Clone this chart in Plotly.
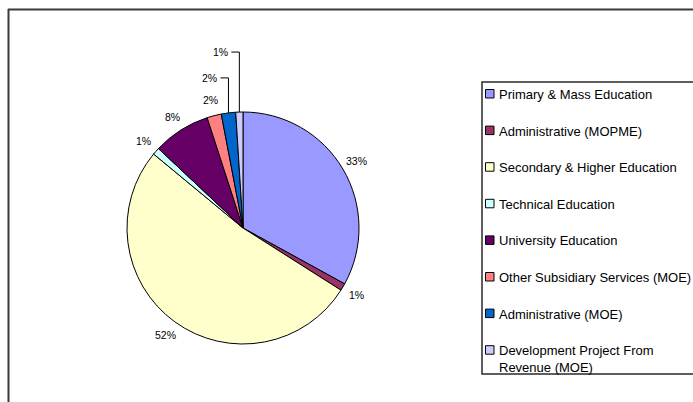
import math
import plotly.graph_objects as go

# Budget share by sector
labels = [
    "Primary & Mass Education",
    "Administrative (MOPME)",
    "Secondary & Higher Education",
    "Technical Education",
    "University Education",
    "Other Subsidiary Services (MOE)",
    "Administrative (MOE)",
    "Development Project From<br>Revenue (MOE)",
]
values = [33, 1, 52, 1, 8, 2, 2, 1]
colors = ["#9999FF", "#993366", "#FFFFCC", "#CCFFFF",
          "#660066", "#FF8080", "#0066CC", "#CCCCFF"]

W, H = 693, 402
CX, CY, R = 243, 228, 116        # pie centre and radius in pixels
LABEL_R = 132                    # distance of percentage labels from centre
LIFTED = {6: 35, 7: 60}          # slices whose labels are raised on leader lines

FONT = "Liberation Sans, Arial, sans-serif"


def px(x):
    return x / W


def py(y):
    return 1 - y / H


fig = go.Figure()
fig.add_trace(go.Pie(
    labels=labels,
    values=values,
    marker=dict(colors=colors, line=dict(color="#000000", width=1)),
    sort=False,
    direction="clockwise",
    rotation=0,
    textinfo="none",
    hoverinfo="skip",
    showlegend=False,
    domain=dict(x=[px(CX - R), px(CX + R)], y=[py(CY + R), py(CY - R)]),
))

annotations = []
shapes = []

# percentage labels placed at each slice's mid angle
total = sum(values)
cum = 0.0
for i, v in enumerate(values):
    mid = (cum + v / 2) / total * 2 * math.pi
    cum += v
    text = f"{round(v / total * 100)}%"
    if i in LIFTED:
        ex = CX + R * math.sin(mid)
        ey = CY - R * math.cos(mid)
        ly = ey - LIFTED[i]
        lx = ex - 8
        shapes.append(dict(
            type="path", xref="paper", yref="paper",
            path=f"M {px(ex)},{py(ey)} L {px(ex)},{py(ly)} L {px(lx)},{py(ly)}",
            line=dict(color="#000000", width=1),
        ))
        annotations.append(dict(
            x=px(lx - 1), y=py(ly), xref="paper", yref="paper",
            text=text, showarrow=False, xanchor="right", yanchor="middle",
            font=dict(family=FONT, size=10.5, color="#000000"),
        ))
    else:
        lx = CX + LABEL_R * math.sin(mid)
        ly = CY - LABEL_R * math.cos(mid)
        annotations.append(dict(
            x=px(lx), y=py(ly), xref="paper", yref="paper",
            text=text, showarrow=False, xanchor="center", yanchor="middle",
            font=dict(family=FONT, size=10.5, color="#000000"),
        ))

# outer chart frame (top and left edges)
shapes.append(dict(type="line", xref="paper", yref="paper",
                   x0=px(8), x1=px(W + 5), y0=py(9.5), y1=py(9.5),
                   line=dict(color="#3a3a3a", width=2)))
shapes.append(dict(type="line", xref="paper", yref="paper",
                   x0=px(8.5), x1=px(8.5), y0=py(9), y1=py(H + 5),
                   line=dict(color="#3a3a3a", width=2)))

# legend box
LEG_X0, LEG_Y0, LEG_Y1 = 482, 82, 374
shapes.append(dict(type="rect", xref="paper", yref="paper",
                   x0=px(LEG_X0), x1=px(W + 10), y0=py(LEG_Y0), y1=py(LEG_Y1),
                   line=dict(color="#2a2a2a", width=1.5), fillcolor="rgba(0,0,0,0)"))

ITEM_Y0, ITEM_STEP = 94, 36.6
for i, (lab, col) in enumerate(zip(labels, colors)):
    yc = ITEM_Y0 + ITEM_STEP * i
    shapes.append(dict(type="rect", xref="paper", yref="paper",
                       x0=px(485.5), x1=px(494), y0=py(yc - 4.5), y1=py(yc + 4),
                       line=dict(color="#000000", width=1), fillcolor=col))
    annotations.append(dict(
        x=px(497), y=py(yc - 9), xref="paper", yref="paper",
        text=lab, showarrow=False, xanchor="left", yanchor="top", align="left",
        font=dict(family=FONT, size=13, color="#000000"),
    ))

fig.update_layout(
    width=W, height=H,
    margin=dict(l=0, r=0, t=0, b=0),
    paper_bgcolor="#FFFFFF",
    plot_bgcolor="#FFFFFF",
    showlegend=False,
    shapes=shapes,
    annotations=annotations,
)

fig.write_html("out.html")
